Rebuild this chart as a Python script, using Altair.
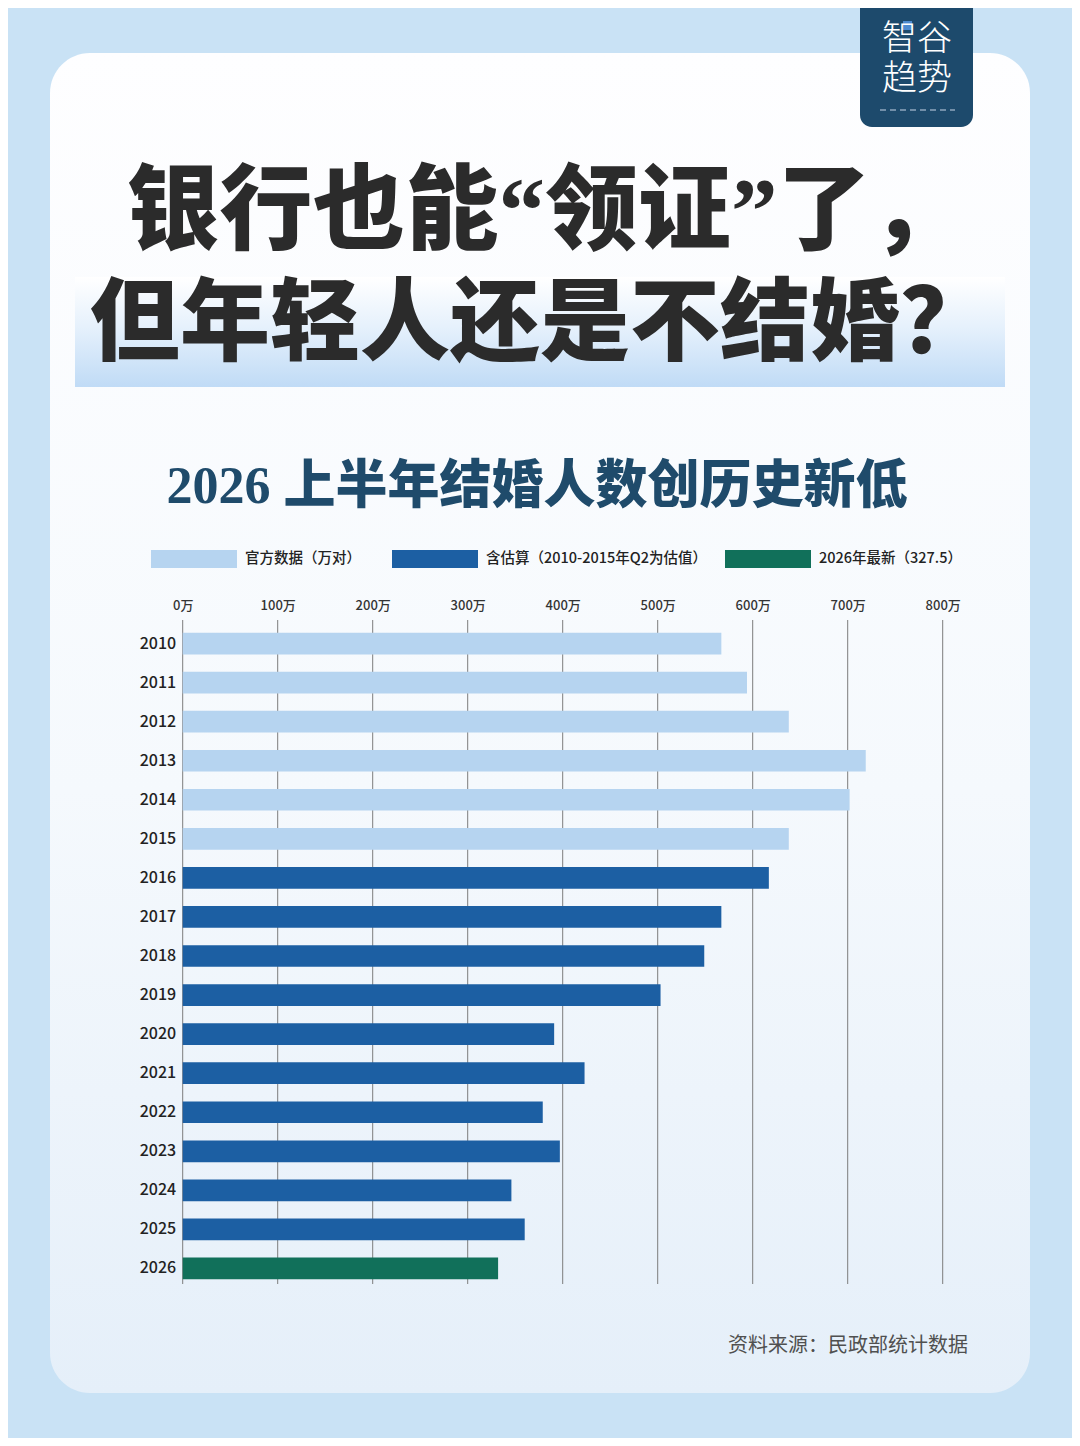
import altair as alt
import pandas as pd

# ---------------- data ----------------
years = ["2010", "2011", "2012", "2013", "2014", "2015", "2016", "2017", "2018",
         "2019", "2020", "2021", "2022", "2023", "2024", "2025", "2026"]
values = [567, 594, 638, 719, 702, 638, 617, 567, 549, 503, 391, 423, 379, 397, 346, 360, 332]
series_names = ["官方数据（万对）", "含估算（2010-2015年Q2为估值）", "2026年最新（327.5）"]
series_of_year = [series_names[0]] * 6 + [series_names[1]] * 10 + [series_names[2]]
series_colors = ["#b6d4f0", "#1c5fa3", "#11705a"]
tick_values = [0, 100, 200, 300, 400, 500, 600, 700, 800]

title_line1 = "银行也能“领证”了，"
title_line2 = "但年轻人还是不结婚？"
subtitle = "2026 上半年结婚人数创历史新低"
source_text = "资料来源：民政部统计数据"
logo_line1 = "智谷"
logo_line2 = "趋势"

df = pd.DataFrame({"year": years, "value": values, "series": series_of_year})
ticks_df = pd.DataFrame({"v": tick_values})
one = pd.DataFrame({"k": [0]})

# ---------------- layout ----------------
FONT = "Noto Sans CJK SC"
SERIF_FONT = "'Liberation Serif', 'Noto Sans CJK SC'"
LOGO_FONT = "'Liberation Sans', 'Noto Sans CJK SC'"
OX, OY = 182.7, 620.0          # page position of the plot origin
PW, PH = 760, 664              # plot area
SVG_W, SVG_H = 1064, 1430


def X(p):
    return p - OX


def Y(p):
    return p - OY


def rect(x1, x2, y1, y2, **kw):
    return alt.Chart(one).mark_rect(**kw).encode(
        x=alt.value(X(x1)), x2=alt.value(X(x2)), y=alt.value(Y(y1)), y2=alt.value(Y(y2)))


def text(x, y, t, font=FONT, **kw):
    return alt.Chart(one).mark_text(text=t, font=font, **kw).encode(
        x=alt.value(X(x)), y=alt.value(Y(y)))


card = rect(50, 1030, 53, 1393, cornerRadius=40,
            fill=alt.LinearGradient(gradient="linear", x1=0, x2=0, y1=0, y2=1,
                                    stops=[alt.GradientStop(color="#fefeff", offset=0),
                                           alt.GradientStop(color="#f5f9fd", offset=0.55),
                                           alt.GradientStop(color="#e5eff9", offset=1)]))
band = rect(75, 1005, 277, 387,
            fill=alt.LinearGradient(gradient="linear", x1=0, x2=0, y1=0, y2=1,
                                    stops=[alt.GradientStop(color="#ffffff", offset=0),
                                           alt.GradientStop(color="#e6f1fc", offset=0.45),
                                           alt.GradientStop(color="#c0dbf6", offset=1)]))

t1 = text(545, 214, title_line1, font=SERIF_FONT, fontSize=93, fontWeight=900,
          color="#2b2b2b", align="center", baseline="middle")
t2 = text(540, 326, title_line2, font=SERIF_FONT, fontSize=90, fontWeight=900,
          color="#2b2b2b", align="center", baseline="middle")
sub = text(537, 487, subtitle, font=SERIF_FONT, fontSize=52, fontWeight=900,
           color="#1f4b6b", align="center", baseline="middle")

logo_bg = rect(860, 973, -20, 127, cornerRadius=12, fill="#1d4a6c")
logo_sq = rect(903, 912, 21, 30, fill="#4d8bd0")
logo_t1 = text(917, 39, logo_line1, font=LOGO_FONT, fontSize=35, fontWeight=300,
               color="#ffffff", align="center", baseline="middle")
logo_t2 = text(917, 79, logo_line2, font=LOGO_FONT, fontSize=35, fontWeight=300,
               color="#ffffff", align="center", baseline="middle")
logo_dash = alt.Chart(one).mark_rule(color="#8ea6bd", strokeDash=[6, 4], strokeWidth=1.5).encode(
    x=alt.value(X(880)), x2=alt.value(X(955)), y=alt.value(Y(110)))

legend_x = [151, 392, 725]
legend_layers = []
for name, col, lx in zip(series_names, series_colors, legend_x):
    legend_layers.append(rect(lx, lx + 86, 550, 568, fill=col))
    legend_layers.append(text(lx + 94, 559, name, fontSize=14.5, fontWeight=500,
                              color="#222222", align="left", baseline="middle"))

source = text(968, 1346, source_text, fontSize=20, color="#505050",
              align="right", baseline="middle")

xscale = alt.Scale(domain=[0, 800], nice=False, zero=True)
xaxis = alt.Axis(orient="top", values=tick_values, labelExpr="datum.value + '万'",
                 title=None, domain=False, ticks=False, grid=False, labelFlush=False,
                 labelOverlap=False, labelBound=False,
                 labelFont=FONT, labelFontSize=13, labelFontWeight=500,
                 labelColor="#333333", labelPadding=8, zindex=1)

grid = alt.Chart(ticks_df).mark_rule(color="#7d7d7d", strokeWidth=1).encode(
    x=alt.X("v:Q", scale=xscale, axis=xaxis),
    y=alt.value(0), y2=alt.value(PH))

bars = alt.Chart(df).mark_bar().encode(
    x=alt.X("value:Q", scale=xscale, axis=xaxis),
    y=alt.Y("year:N", sort=years,
            scale=alt.Scale(paddingInner=0.445, paddingOuter=0.223, align=0.73),
            axis=alt.Axis(title=None, domain=False, ticks=False, grid=False,
                          labelFont=FONT, labelFontSize=16, labelFontWeight=500,
                          labelColor="#222222", labelPadding=7, zindex=1)),
    color=alt.Color("series:N", scale=alt.Scale(domain=series_names, range=series_colors),
                    legend=None),
    tooltip=["year", "value"])

chart = alt.layer(
    card, band, t1, t2, sub, logo_bg, logo_sq, logo_t1, logo_t2, logo_dash,
    *legend_layers, grid, bars, source
).properties(
    width=PW, height=PH,
    autosize=alt.AutoSizeParams(type="none"),
    padding={"left": OX - 8, "top": OY - 8,
             "right": SVG_W - (OX - 8) - PW, "bottom": SVG_H - (OY - 8) - PH},
    background="#c9e2f5",
).configure_view(stroke=None)

chart.save("out.html", embed_options={"renderer": "svg", "actions": False})
